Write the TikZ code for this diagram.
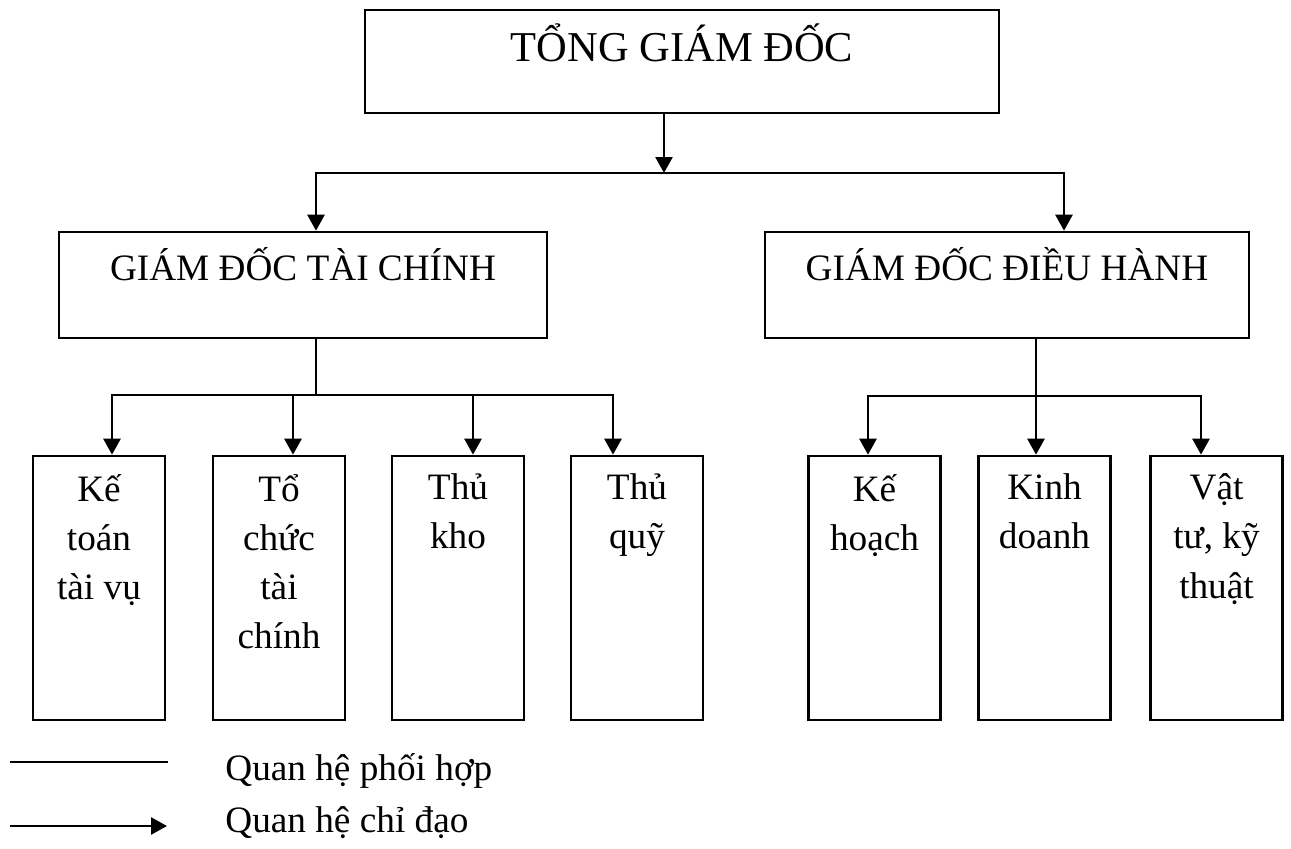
\documentclass[tikz,border=0pt]{standalone}
\usepackage{fontspec}
\setmainfont{Liberation Serif}
\usetikzlibrary{arrows.meta,positioning}

\begin{document}
\begin{tikzpicture}[
    box/.style={draw, line width=1.5pt, inner sep=0pt},
    unit/.style={box, minimum width=2.64cm, minimum height=5.28cm},
    lbl/.style={inner sep=0pt, align=center, anchor=north,
      font=\fontsize{21.2}{27.9}\selectfont, execute at begin node=\strut},
    link/.style={line width=1.5pt},
    dtri/.tip={Triangle[length=0.32cm, width=0.34cm]},
    arr/.style={link, -dtri}
  ]
  % scale: 1 cm = 50 px
  \useasboundingbox (0,0) rectangle (25.82,-16.96);

  % top level
  \node[box, minimum width=12.68cm, minimum height=2.06cm] (tgd) at (13.64,-1.23) {};
  \node[lbl, font=\fontsize{24.2}{29}\selectfont, below=0.30cm of tgd.north] (tgdT) {TỔNG GIÁM ĐỐC};

  % second level
  \node[box, minimum width=9.76cm, minimum height=2.12cm] (gdtc) at (6.06,-5.70) {};
  \node[lbl, below=0.30cm of gdtc.north] (gdtcT) {GIÁM ĐỐC TÀI CHÍNH};
  \node[box, minimum width=9.68cm, minimum height=2.12cm] (gddh) at (20.14,-5.70) {};
  \node[lbl, below=0.30cm of gddh.north] (gddhT) {GIÁM ĐỐC ĐIỀU HÀNH};

  % departments
  \node[unit] (ktv) at (1.98,-11.76) {};
  \node[lbl, below=0.38cm of ktv.north] (ktvT) {Kế\\toán\\tài vụ};
  \node[unit] (tctc) at (5.58,-11.76) {};
  \node[lbl, below=0.38cm of tctc.north] (tctcT) {Tổ\\chức\\tài\\chính};
  \node[unit] (tk) at (9.16,-11.76) {};
  \node[lbl, below=0.38cm of tk.north] (tkT) {Thủ\\kho};
  \node[unit] (tq) at (12.74,-11.76) {};
  \node[lbl, below=0.38cm of tq.north] (tqT) {Thủ\\quỹ};
  \node[unit] (kh) at (17.49,-11.76) {};
  \node[lbl, below=0.38cm of kh.north] (khT) {Kế\\hoạch};
  \node[unit] (kd) at (20.89,-11.76) {};
  \node[lbl, below=0.38cm of kd.north] (kdT) {Kinh\\doanh};
  \node[unit] (vt) at (24.33,-11.76) {};
  \node[lbl, below=0.38cm of vt.north] (vtT) {Vật\\tư, kỹ\\thuật};

  % top -> second level
  \coordinate (hub) at (13.28,-3.46);
  \coordinate (barL) at (6.32,-3.46);
  \coordinate (barR) at (21.28,-3.46);
  \draw[arr] (tgd.south -| hub) -- (hub);
  \draw[link, dtri-dtri] (gdtc.north -| barL) -- (barL) -- (barR) -- (gddh.north -| barR);

  % finance branch
  \coordinate (stemL) at (6.32,-7.9);
  \coordinate (l1) at (2.24,-7.9);
  \coordinate (l2) at (5.86,-7.9);
  \coordinate (l3) at (9.46,-7.9);
  \coordinate (l4) at (12.26,-7.9);
  \draw[link] (gdtc.south -| stemL) -- (stemL);
  \draw[link, dtri-dtri] (ktv.north -| l1) -- (l1) -- (l4) -- (tq.north -| l4);
  \draw[arr] (l2) -- (tctc.north -| l2);
  \draw[arr] (l3) -- (tk.north -| l3);

  % operations branch
  \coordinate (r1) at (17.36,-7.92);
  \coordinate (r2) at (20.72,-7.92);
  \coordinate (r3) at (24.02,-7.92);
  \draw[arr] (gddh.south -| r2) -- (kd.north -| r2);
  \draw[link, dtri-dtri] (kh.north -| r1) -- (r1) -- (r3) -- (vt.north -| r3);

  % legend
  \coordinate (lgA1) at (0.2,-15.24);
  \coordinate (lgA2) at (3.36,-15.24);
  \coordinate (lgB1) at (0.2,-16.52);
  \coordinate (lgB2) at (3.34,-16.52);
  \draw[link] (lgA1) -- (lgA2);
  \draw[arr] (lgB1) -- (lgB2);
  \node[anchor=base west, inner sep=0pt, font=\fontsize{21.2}{27.9}\selectfont] (lgAT) at (4.5,-15.6) {Quan hệ phối hợp};
  \node[anchor=base west, inner sep=0pt, font=\fontsize{21.2}{27.9}\selectfont] (lgBT) at (4.5,-16.64) {Quan hệ chỉ đạo};
\end{tikzpicture}
\end{document}
